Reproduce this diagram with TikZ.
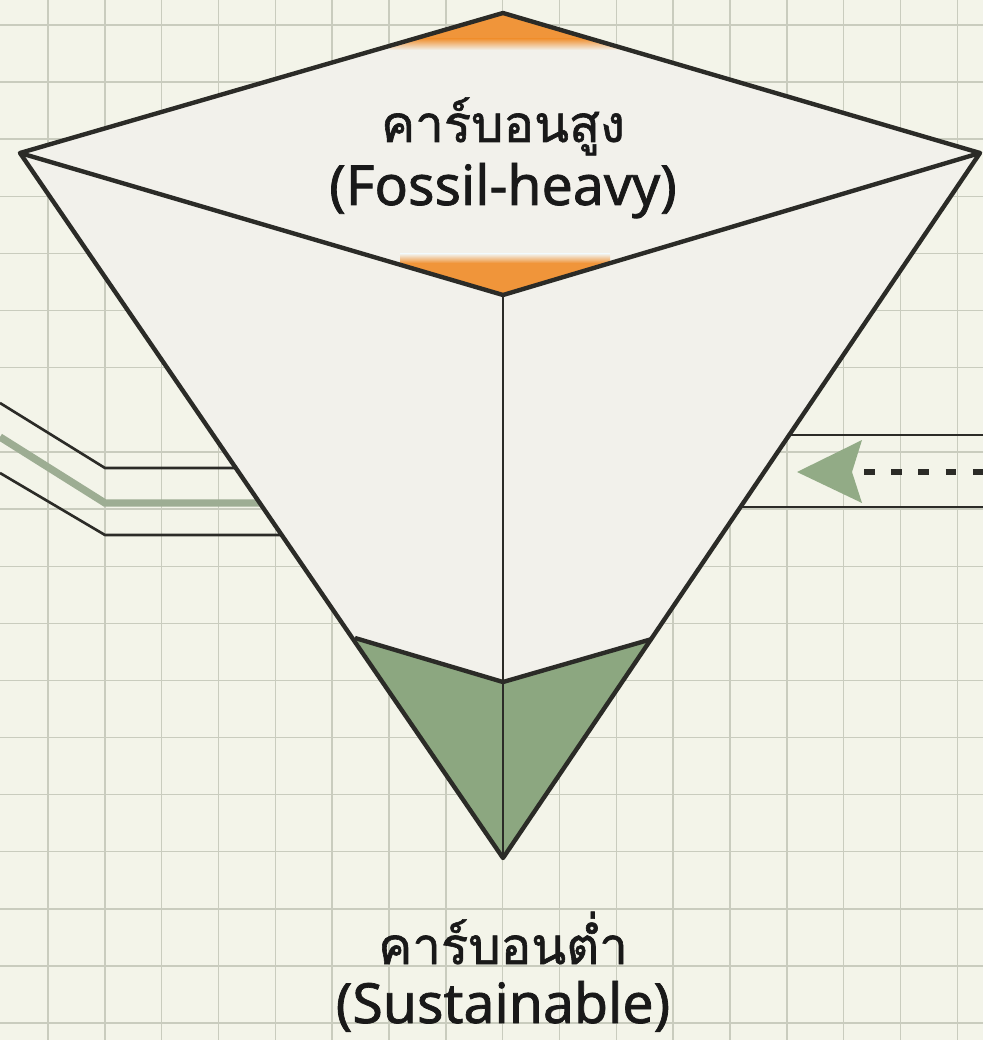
\documentclass[tikz,border=0pt]{standalone}
\usepackage{fontspec}
\setmainfont{Noto Sans}
\newfontfamily\labelfont{Noto Sans}[FakeBold=1.3]
\newfontfamily\thaifont{Loma}[Script=Thai, FakeBold=1.2]
\usetikzlibrary{calc}

\definecolor{paper}{HTML}{F3F4E9}
\definecolor{gridline}{HTML}{C9CCBE}
\definecolor{face}{HTML}{F2F1EB}
\definecolor{ink}{HTML}{2B2B27}
\definecolor{fossil}{HTML}{F0953A}
\definecolor{leaf}{HTML}{8CA780}
\definecolor{pipegreen}{HTML}{9DAD93}

\begin{document}
\begin{tikzpicture}[
        x=0.02cm, y=-0.02cm,
        outline/.style={draw=ink, line width=2.5pt, line join=round},
        innerline/.style={draw=ink, line width=1.5pt},
        pipeline/.style={draw=ink, line width=1.5pt},
        greenflow/.style={draw=pipegreen, line width=4.2pt},
        flowdash/.style={draw=ink, line width=3pt, dash pattern=on 6pt off 9.5pt},
        label/.style={anchor=base, text=black!90, font=\labelfont\fontsize{31.5}{36}\selectfont}
    ]

    % Paper and grid
    \fill[paper] (0,0) rectangle (983,1040);
    \useasboundingbox (0,0) rectangle (983,1040);
    \foreach \gx in {0,...,16}
        \draw[gridline, line width=0.8pt] ({48+56.83*\gx},0) -- ({48+56.83*\gx},1040);
    \foreach \gy in {0,...,6}
        \draw[gridline, line width=0.8pt] (0,{25+57.1*\gy}) -- (983,{25+57.1*\gy});
    \foreach \gy in {0,...,10}
        \draw[gridline, line width=0.8pt] (0,{452+57.1*\gy}) -- (983,{452+57.1*\gy});

    % Pyramid corners
    \coordinate (ptop) at (503,13);
    \coordinate (pwest) at (20,153);
    \coordinate (peast) at (980,153);
    \coordinate (pfront) at (503,295);
    \coordinate (papex) at (503,858);
    \coordinate (gwest) at (355,638);
    \coordinate (geast) at (652,639);
    \coordinate (gmid) at (503,682);

    % Left inflow pipe
    \draw[pipeline] (0,403) -- (105,468) -- (300,468);
    \draw[greenflow] (0,437) -- (105,503) -- (300,503);
    \draw[pipeline] (0,473) -- (105,535) -- (320,535);

    % Right return pipe
    \draw[pipeline] (760,435) -- (983,435);
    \draw[pipeline] (720,507) -- (983,507);

    % Faces
    \fill[face] (ptop) -- (peast) -- (papex) -- (pwest) -- cycle;
    \begin{scope}
        \clip (ptop) -- (peast) -- (pfront) -- (pwest) -- cycle;
        \fill[fossil] (390,0) rectangle (620,39);
        \shade[top color=fossil, bottom color=face] (390,39) rectangle (620,50);
        \shade[top color=face, bottom color=fossil] (400,254) rectangle (610,263);
        \fill[fossil] (400,263) rectangle (610,300);
    \end{scope}
    \fill[leaf] (gwest) -- (gmid) -- (geast) -- (papex) -- cycle;

    % Edges
    \draw[outline] (ptop) -- (peast) -- (papex) -- (pwest) -- cycle;
    \draw[outline] (pwest) -- (pfront) -- (peast);
    \draw[outline] (gwest) -- (gmid) -- (geast);
    \draw[innerline] (pfront) -- (papex);

    % Return arrow
    \fill[leaf!95!white] (797,472) -- (862,440) -- (852,472) -- (862,503) -- cycle;
    \draw[flowdash] (864,472) -- (983,472);

    % Labels
    \node[label] (hightitle) at (503,142) {\thaifont\fontsize{29}{35}\selectfont คาร์บอนสูง};
    \node[label] (highsub) at (503,205) {(Fossil-heavy)};
    \node[label] (lowtitle) at (503,964) {\thaifont\fontsize{29}{35}\selectfont คาร์บอนต่ำ};
    \node[label] (lowsub) at (503,1023) {(Sustainable)};

\end{tikzpicture}
\end{document}
